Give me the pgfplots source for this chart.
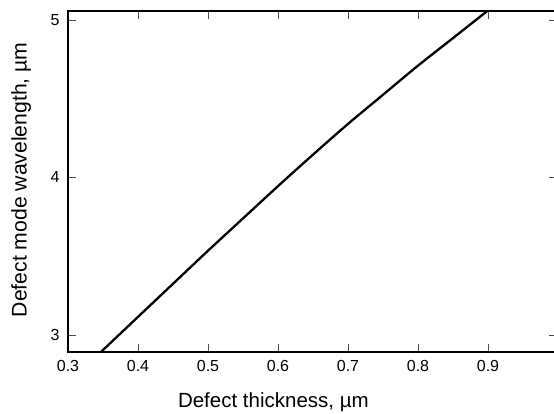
\documentclass[border=0pt]{standalone}
\usepackage{fontspec}
\setmainfont{Liberation Sans}
\usepackage{pgfplots}
\pgfplotsset{compat=1.18}

\begin{document}
\begin{tikzpicture}
\begin{axis}[
  scale only axis,
  width=489pt, height=341pt,
  xmin=0.3, xmax=0.9986,
  ymin=2.892, ymax=5.057,
  xtick={0.3,0.4,...,0.9},
  ytick={3,4,5},
  xticklabel pos=lower,
  yticklabel pos=left,
  /pgf/number format/assume math mode=true,
  /pgf/number format/fixed,
  tick label style={font=\fontsize{16}{19}\selectfont},
  xticklabel style={yshift=-5pt},
  yticklabel style={xshift=-5pt},
  major tick length=8pt,
  tick style={line width=0.8pt, black!70},
  axis line style={line width=1.2pt},
  every axis x label/.style={at={(axis description cs:0.42,-0.164)}, anchor=base},
  every axis y label/.style={at={(axis description cs:-0.0844,0.505)}, rotate=90, anchor=base},
  xlabel style={font=\fontsize{20.5}{24}\selectfont},
  ylabel style={font=\fontsize{21.2}{25}\selectfont},
  xlabel={Defect thickness, µm},
  ylabel={Defect mode wavelength, µm},
  clip=false,
]
\addplot[black, line width=2.3pt, smooth, line cap=round] coordinates {
  (0.347, 2.892)
  (0.40, 3.115)
  (0.45, 3.325)
  (0.50, 3.535)
  (0.55, 3.740)
  (0.60, 3.945)
  (0.65, 4.145)
  (0.70, 4.340)
  (0.75, 4.525)
  (0.80, 4.710)
  (0.85, 4.885)
  (0.899, 5.057)
};
\coordinate (sw) at (rel axis cs:0,0);
\coordinate (ne) at (rel axis cs:1,1);
\end{axis}
\pgfresetboundingbox
\path[use as bounding box] ([xshift=-68pt,yshift=-62pt]sw) rectangle ([xshift=486pt,yshift=11pt]sw |- ne);
\end{tikzpicture}
\end{document}
